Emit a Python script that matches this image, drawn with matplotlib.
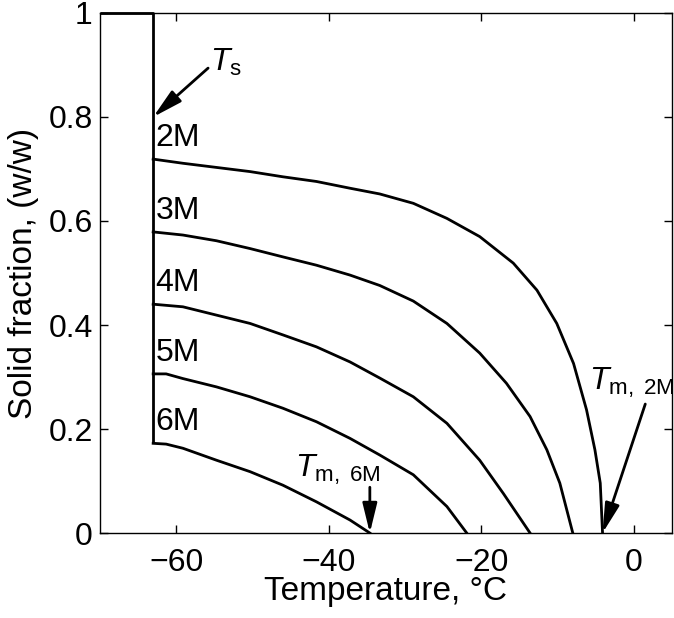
import matplotlib
matplotlib.use('Agg')
import matplotlib.pyplot as plt

plt.rcParams.update({'font.size': 23, 'font.family': 'Liberation Sans',
                     'mathtext.fontset': 'custom',
                     'mathtext.rm': 'Liberation Sans',
                     'mathtext.it': 'Liberation Sans:italic',
                     'axes.unicode_minus': True})

t_2m = [-63.0, -59.1, -54.7, -50.3, -46.0, -41.6, -37.2, -33.3, -28.9, -24.5,
        -20.2, -15.8, -12.7, -10.1, -7.9, -6.2, -5.1, -4.4, -4.1]
f_2m = [0.719, 0.711, 0.703, 0.695, 0.685, 0.676, 0.663, 0.652, 0.634, 0.605,
        0.570, 0.519, 0.467, 0.403, 0.326, 0.237, 0.160, 0.096, 0.0]
t_3m = [-63.0, -59.1, -54.7, -50.3, -46.0, -41.6, -37.2, -33.3, -28.9, -24.5,
        -20.2, -16.7, -13.6, -11.4, -9.7, -8.0]
f_3m = [0.579, 0.573, 0.562, 0.547, 0.531, 0.515, 0.496, 0.476, 0.446, 0.403,
        0.346, 0.288, 0.224, 0.160, 0.096, 0.0]
t_4m = [-63.0, -59.1, -54.7, -50.3, -46.0, -41.6, -37.2, -33.3, -28.9, -24.5,
        -20.2, -17.1, -13.6]
f_4m = [0.440, 0.435, 0.419, 0.403, 0.381, 0.358, 0.329, 0.298, 0.262, 0.211,
        0.140, 0.076, 0.0]
t_5m = [-63.0, -61.3, -59.1, -54.7, -50.3, -46.0, -41.6, -37.2, -33.3, -28.9,
        -24.5, -21.9]
f_5m = [0.306, 0.306, 0.297, 0.281, 0.262, 0.240, 0.214, 0.182, 0.150, 0.112,
        0.051, 0.0]
t_6m = [-63.0, -61.3, -59.1, -54.7, -50.3, -46.0, -41.6, -37.2, -34.6]
f_6m = [0.1725, 0.171, 0.163, 0.140, 0.118, 0.092, 0.060, 0.025, 0.0]

curves = [(t_2m, f_2m, '2M'), (t_3m, f_3m, '3M'), (t_4m, f_4m, '4M'),
          (t_5m, f_5m, '5M'), (t_6m, f_6m, '6M')]

# eutectic line at Ts
t_s = -63.0
ts_line_x = [-70, t_s, t_s]
ts_line_y = [1.0, 1.0, 0.1725]

fig = plt.figure(figsize=(6.74, 6.18), dpi=100)
ax = fig.add_axes([0.148, 0.1375, 0.849, 0.8415])

ax.plot(ts_line_x, ts_line_y, 'k-', lw=2, clip_on=False, solid_capstyle='butt')
for t, f, lab in curves:
    ax.plot(t, f, 'k-', lw=2, solid_joinstyle='round')
    ax.text(t[0] + 0.3, f[0] + 0.012, lab, ha='left', va='bottom', fontsize=23)

arr = dict(arrowstyle='-|>,head_length=0.9,head_width=0.22', color='k', lw=2,
           shrinkA=0, shrinkB=0, mutation_scale=20)
ax.annotate('', xy=(t_s, 0.8), xytext=(-55.8, 0.894), arrowprops=arr)
ax.text(-55.6, 0.905, r'$T_\mathrm{s}$', ha='left', va='center', fontsize=23)

ax.annotate('', xy=(t_6m[-1], 0.0), xytext=(t_6m[-1], 0.088), arrowprops=arr)
ax.text(-38.8, 0.122, r'$T_\mathrm{m,\ 6M}$', ha='center', va='center', fontsize=23)

ax.annotate('', xy=(t_2m[-1], 0.0), xytext=(1.5, 0.248), arrowprops=arr)
ax.text(-0.3, 0.288, r'$T_\mathrm{m,\ 2M}$', ha='center', va='center', fontsize=23)

ax.set_xlim(-70, 5)
ax.set_ylim(0, 1)
ax.set_xticks([-60, -40, -20, 0])
ax.set_yticks([0, 0.2, 0.4, 0.6, 0.8, 1])
ax.set_yticklabels(['0', '0.2', '0.4', '0.6', '0.8', '1'])
ax.tick_params(direction='in', top=True, right=True, length=6, width=1, labelsize=23)
ax.tick_params(axis='x', pad=11)
ax.tick_params(axis='y', pad=5)
for s in ax.spines.values():
    s.set_linewidth(1)
ax.set_xlabel('Temperature, °C', fontsize=24, labelpad=-2)
ax.set_ylabel('Solid fraction, (w/w)', fontsize=24, labelpad=7)

plt.savefig('out.png', dpi=100)
